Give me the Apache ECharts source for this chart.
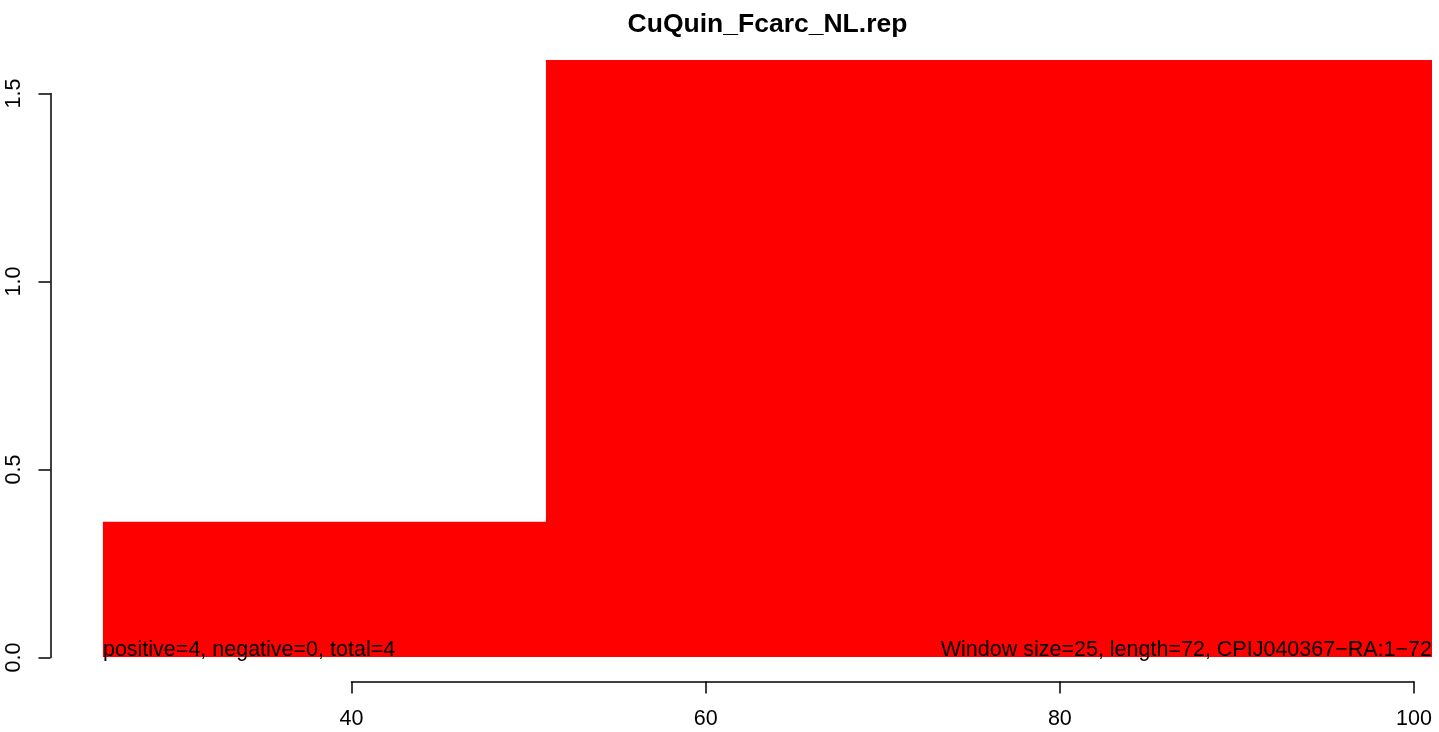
<!DOCTYPE html>
<html>
<head>
<meta charset="utf-8">
<script src="https://cdn.jsdelivr.net/npm/echarts@6/dist/echarts.min.js"></script>
<style>
html,body{margin:0;padding:0;background:#fff;}
#chart{width:1439px;height:732px;}
</style>
</head>
<body>
<div id="chart"></div>
<script>
// ---- data ----
const titleText = "CuQuin_Fcarc_NL.rep";
const stepStarts = [26, 51];
const stepEnds = [51, 101];
const stepValues = [0.36, 1.59];
const xTicks = [40, 60, 80, 100];
const yTicks = [0.0, 0.5, 1.0, 1.5];
const leftNote = "positive=4, negative=0, total=4";
const rightNote = "Window size=25, length=72, CPIJ040367\u2212RA:1\u221272";

// build step polyline from the windows
const stepData = [];
for (let i = 0; i < stepStarts.length; i++) stepData.push([stepStarts[i], stepValues[i]]);
stepData.push([stepEnds[stepEnds.length - 1], stepValues[stepValues.length - 1]]);

const FONT = "'Liberation Sans', Arial, Helvetica, sans-serif";
const chart = echarts.init(document.getElementById('chart'), null, {renderer: 'canvas'});

const option = {
  animation: false,
  backgroundColor: '#ffffff',
  grid: [
    {left: 51, right: 7, top: 60, bottom: 51},          // data area
    {left: 351.5, right: 25, top: 60, bottom: 50.5},     // x axis
    {left: 50.5, width: 10, top: 93.5, bottom: 74.5}     // y axis
  ],
  xAxis: [
    {gridIndex: 0, type: 'value', min: 23.07, max: 101, show: false},
    {gridIndex: 1, type: 'value', min: xTicks[0], max: xTicks[xTicks.length - 1], interval: 20,
      axisLine: {show: true, onZero: false, lineStyle: {color: '#000', width: 1.5}},
      axisTick: {show: true, length: 12, lineStyle: {color: '#000', width: 1.5}},
      axisLabel: {show: true, margin: 27, color: '#000', fontSize: 21.5, fontFamily: FONT},
      splitLine: {show: false}},
    {gridIndex: 2, type: 'value', min: 0, max: 1, show: false}
  ],
  yAxis: [
    {gridIndex: 0, type: 'value', min: -0.064, max: 1.59, show: false},
    {gridIndex: 1, type: 'value', min: 0, max: 1, show: false},
    {gridIndex: 2, type: 'value', min: yTicks[0], max: yTicks[yTicks.length - 1], interval: 0.5,
      axisLine: {show: true, onZero: false, lineStyle: {color: '#000', width: 1.5}},
      axisTick: {show: true, length: 12, lineStyle: {color: '#000', width: 1.5}},
      axisLabel: {show: true, rotate: 90, margin: 25, color: '#000', fontSize: 21.5, fontFamily: FONT,
        formatter: v => v.toFixed(1)},
      splitLine: {show: false}}
  ],
  series: [{
    type: 'line',
    xAxisIndex: 0, yAxisIndex: 0,
    data: stepData,
    step: 'end',
    symbol: 'none',
    clip: true,
    lineStyle: {width: 0, color: '#ff0000'},
    areaStyle: {color: '#ff0000', opacity: 1},
    z: 1
  }]
};
chart.setOption(option);

const pLeft = chart.convertToPixel({xAxisIndex: 0, yAxisIndex: 0}, [stepStarts[0], 0]);
const pRight = chart.convertToPixel({xAxisIndex: 0, yAxisIndex: 0}, [stepEnds[stepEnds.length - 1], 0]);
const descent = 4.5;

chart.setOption({
  graphic: [
    {type: 'text', x: 767.5, y: 25, z: 10,
      style: {text: titleText, fill: '#000', font: 'bold 26.5px ' + FONT, align: 'center', verticalAlign: 'middle'}},
    {type: 'text', x: pLeft[0], y: pLeft[1] + descent, z: 10,
      style: {text: leftNote, fill: '#000', font: '21.5px ' + FONT, align: 'left', verticalAlign: 'bottom'}},
    {type: 'text', x: pRight[0], y: pRight[1] + descent, z: 10,
      style: {text: rightNote, fill: '#000', font: '21.5px ' + FONT, align: 'right', verticalAlign: 'bottom'}}
  ]
});
</script>
</body>
</html>
